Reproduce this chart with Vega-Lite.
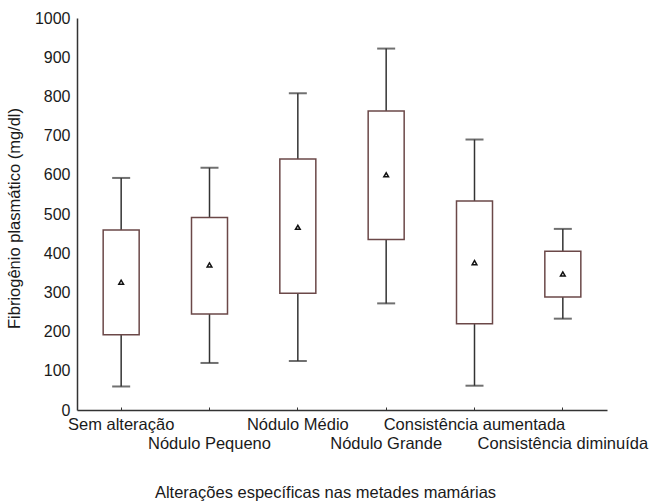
{
  "$schema": "https://vega.github.io/schema/vega-lite/v6.json",
  "width": 530,
  "height": 392,
  "autosize": "none",
  "padding": {"left": 77, "top": 18, "right": 42, "bottom": 92},
  "background": "white",
  "config": {
    "view": {"stroke": null},
    "font": "Liberation Sans",
    "axis": {"labelOverlap": false},
    "axisY": {
      "labelOverlap": false,
      "format": "d",
      "labelFontSize": 16,
      "labelColor": "#1a1a1a",
      "labelPadding": 7,
      "ticks": false,
      "grid": false,
      "domainColor": "#333333",
      "domainWidth": 1.5,
      "titleFontSize": 16.5,
      "titleFontWeight": "normal",
      "titleColor": "#1a1a1a",
      "titleAngle": -90,
      "titleX": -63,
      "titleY": 200,
      "titleAlign": "center",
      "titleBaseline": "middle"
    }
  },
  "data": {
    "values": [
      {"categoria": "Sem alteração", "min": 60, "q1": 192, "q3": 459, "max": 592, "media": 326},
      {"categoria": "Nódulo Pequeno", "min": 120, "q1": 245, "q3": 491, "max": 618, "media": 370},
      {"categoria": "Nódulo Médio", "min": 125, "q1": 298, "q3": 640, "max": 808, "media": 466},
      {"categoria": "Nódulo Grande", "min": 272, "q1": 435, "q3": 763, "max": 922, "media": 600},
      {"categoria": "Consistência aumentada", "min": 62, "q1": 220, "q3": 533, "max": 690, "media": 376},
      {"categoria": "Consistência diminuída", "min": 233, "q1": 288, "q3": 405, "max": 462, "media": 347}
    ]
  },
  "encoding": {
    "x": {
      "field": "categoria",
      "type": "nominal",
      "sort": null,
      "scale": {"paddingInner": 0, "paddingOuter": 0},
      "axis": {
        "title": "Alterações específicas nas metades mamárias",
        "titleFontSize": 16.5,
        "titleFontWeight": "normal",
        "titleColor": "#1a1a1a",
        "titleX": 248,
        "titleY": 87,
        "titleBaseline": "alphabetic",
        "labelAngle": 0,
        "labelFontSize": 16.5,
        "labelColor": "#1a1a1a",
        "labelBaseline": "top",
        "labelLineHeight": 19,
        "labelPadding": 9,
        "labelLimit": 0,
        "labelExpr": "(datum.value == 'Nódulo Pequeno' || datum.value == 'Nódulo Grande' || datum.value == 'Consistência diminuída') ? ['', datum.value] : datum.value",
        "labelOverlap": false,
        "labelBound": false,
        "labelFlush": false,
        "domainColor": "#333333",
        "domainWidth": 1.5,
        "tickColor": "#333333",
        "tickSize": -3,
        "tickWidth": 1
      }
    }
  },
  "layer": [
    {
      "layer": [
        {
          "mark": {"type": "rule", "color": "#333333", "strokeWidth": 1.5},
          "encoding": {
            "y": {
              "field": "min",
              "type": "quantitative",
              "scale": {"domain": [0, 1000], "nice": false},
              "axis": {"title": "Fibriogênio plasmático (mg/dl)", "values": [0, 200, 400, 600, 800, 1000]}
            },
            "y2": {"field": "max"}
          }
        },
        {
          "mark": {"type": "tick", "color": "#333333", "thickness": 2, "size": 18},
          "encoding": {"y": {"field": "min", "type": "quantitative"}}
        },
        {
          "mark": {"type": "tick", "color": "#333333", "thickness": 2, "size": 18},
          "encoding": {"y": {"field": "max", "type": "quantitative"}}
        },
        {
          "mark": {"type": "bar", "fill": "white", "stroke": "#6b4848", "strokeWidth": 1.5, "size": 36},
          "encoding": {
            "y": {"field": "q1", "type": "quantitative"},
            "y2": {"field": "q3"}
          }
        },
        {
          "mark": {"type": "point", "shape": "triangle-up", "filled": false, "color": "#111111", "size": 22, "strokeWidth": 1.5, "opacity": 1},
          "encoding": {"y": {"field": "media", "type": "quantitative"}}
        }
      ]
    },
    {
      "mark": {"type": "rule", "opacity": 0},
      "encoding": {
        "y": {
          "field": "min",
          "type": "quantitative",
          "axis": {"title": null, "orient": "left", "domain": false, "values": [100, 300, 500, 700, 900]}
        }
      }
    }
  ],
  "resolve": {"axis": {"y": "independent"}}
}
